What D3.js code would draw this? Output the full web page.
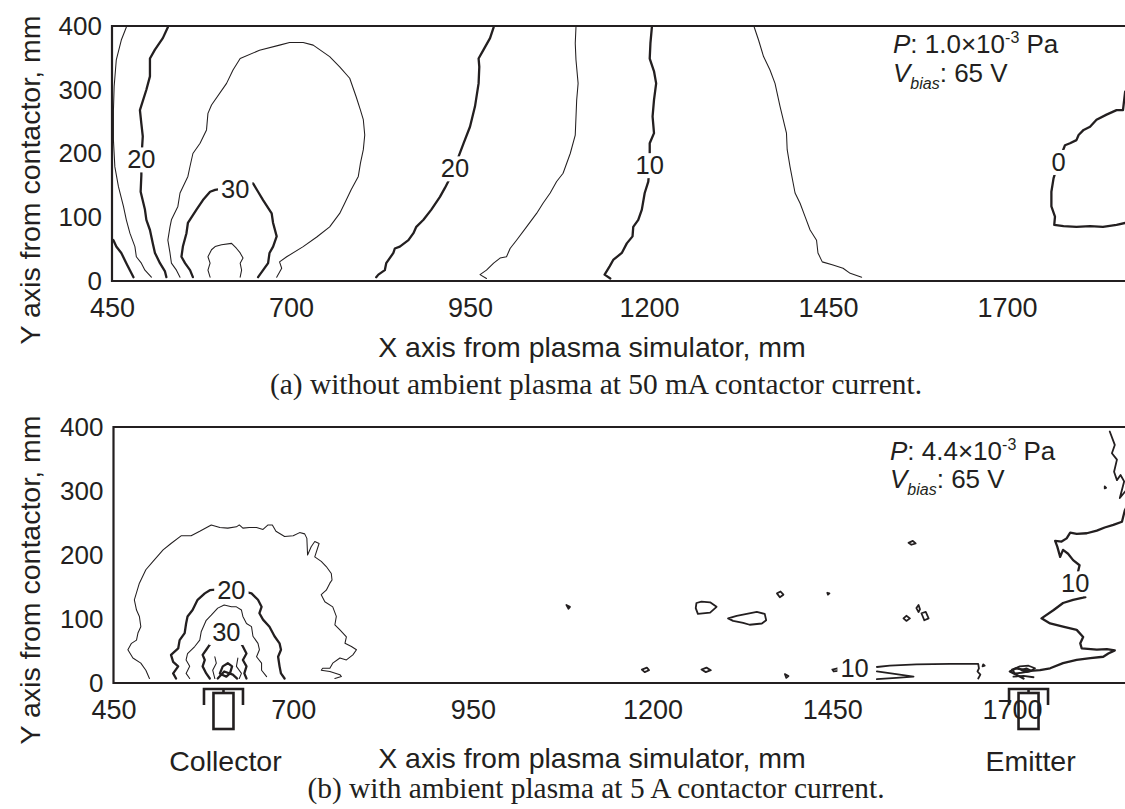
<!DOCTYPE html>
<html>
<head>
<meta charset="utf-8">
<script src="https://cdn.jsdelivr.net/npm/d3@7/dist/d3.min.js"></script>
<style>
  body { margin: 0; background: #fff; }
  svg { display: block; }
  text { font-family: "Liberation Sans", Arial, sans-serif; fill: #231f20; }
  .caption { font-family: "Liberation Serif", "Times New Roman", serif; }
</style>
</head>
<body>
<svg id="chart" width="1125" height="809"></svg>
<script>
// ---- axis ticks ----
const xTicks = [450, 700, 950, 1200, 1450, 1700];
const yTicks = [0, 100, 200, 300, 400];

// ---- (a) without ambient plasma: contour lines, [x mm, y mm] ----
const a10Corner = [[449,66],[452,64],[456,54],[463,44],[470,28],[475,17],[480,6]];
const a15West = [[470,398],[463,378],[456,347],[453,305],[452,268],[452,221],[454,179],[459,148],[466,117],[470,96],[475,75],[482,54],[484,38],[491,28],[496,17],[505,6]];
const a20West = [[528,398],[521,381],[510,363],[503,349],[503,321],[498,300],[489,268],[491,247],[493,227],[491,191],[491,166],[490,140],[496,112],[498,96],[503,80],[507,59],[510,44],[517,28],[524,15],[526,6]];
const a25 = [[545,6],[540,17],[533,28],[531,44],[528,64],[531,85],[533,96],[542,117],[545,138],[556,164],[559,180],[563,200],[573,216],[582,237],[584,263],[589,276],[610,310],[619,331],[629,349],[656,362],[684,370],[698,374],[717,374],[731,370],[754,352],[768,336],[782,318],[791,289],[797,268],[801,253],[803,229],[801,206],[797,185],[794,164],[784,143],[775,122],[768,106],[754,85],[736,69],[717,54],[694,38],[684,30],[687,20],[680,6]];
const a30 = [[563,6],[559,17],[552,28],[547,38],[549,54],[554,75],[556,91],[568,112],[577,127],[587,140],[594,143],[622,148],[647,153],[654,140],[661,127],[673,106],[675,91],[680,70],[675,54],[670,44],[668,28],[661,17],[654,6]];
const a35 = [[587,6],[584,17],[587,28],[584,38],[589,49],[594,54],[603,57],[617,59],[624,51],[629,44],[633,36],[629,28],[631,17],[629,6]];
const a20East = [[983,398],[978,381],[969,363],[962,349],[963,336],[962,310],[957,274],[950,242],[941,216],[934,195],[929,177],[915,146],[908,132],[896,112],[885,96],[875,85],[871,75],[864,64],[852,54],[845,51],[843,44],[833,28],[831,17],[822,10],[819,6]];
const a15East = [[1098,398],[1097,373],[1098,347],[1101,310],[1099,284],[1097,229],[1090,200],[1080,169],[1071,156],[1062,138],[1052,122],[1043,106],[1029,85],[1015,64],[1006,51],[1001,38],[992,36],[983,28],[973,17],[964,10],[973,4]];
const a10East = [[1204,398],[1202,373],[1201,349],[1207,329],[1210,310],[1207,284],[1205,258],[1207,232],[1201,216],[1201,182],[1199,156],[1194,138],[1190,112],[1185,96],[1178,85],[1177,70],[1169,59],[1162,44],[1150,33],[1145,23],[1138,10],[1146,4]];
const a5 = [[1347,398],[1353,378],[1360,352],[1369,331],[1376,310],[1383,274],[1392,232],[1393,206],[1397,179],[1404,138],[1411,122],[1418,101],[1425,80],[1434,64],[1436,44],[1442,30],[1457,25],[1471,20],[1481,12],[1497,6]];
const a0 = [[1875,300],[1865,297],[1862,268],[1853,268],[1839,261],[1825,253],[1816,242],[1807,237],[1800,229],[1797,221],[1788,216],[1781,213],[1772,187],[1765,161],[1762,140],[1762,117],[1767,101],[1766,88],[1779,86],[1797,85],[1816,86],[1834,85],[1853,88],[1865,91],[1875,92]];

const aLabels = [
  { text: "20", x: 491, y: 191 },
  { text: "30", x: 622, y: 145 },
  { text: "20", x: 929, y: 177 },
  { text: "10", x: 1201, y: 182 },
  { text: "0",  x: 1772, y: 187 }
];

// ---- (b) with ambient plasma ----
const b15 = [[500,7],[495,20],[488,31],[477,39],[470,52],[475,62],[482,67],[484,78],[488,88],[486,104],[482,114],[479,130],[486,156],[495,177],[505,190],[519,208],[530,218],[544,230],[558,230],[570,237],[586,247],[598,243],[609,242],[621,244],[625,247],[630,242],[639,243],[649,243],[658,240],[665,247],[671,247],[676,237],[688,229],[700,230],[709,235],[716,233],[719,226],[720,200],[725,213],[730,221],[736,218],[730,197],[739,190],[746,182],[753,171],[754,161],[751,156],[746,145],[739,138],[744,127],[755,119],[760,104],[758,91],[765,83],[774,72],[772,62],[781,57],[788,52],[783,44],[774,36],[765,39],[755,31],[751,23],[741,23],[739,20],[751,18],[765,13],[767,10],[758,7]];
const b20 = [[537,7],[533,15],[540,26],[533,33],[530,44],[540,54],[542,67],[549,78],[551,93],[553,104],[560,114],[567,130],[577,140],[584,145],[614,148],[642,140],[651,130],[656,119],[653,109],[658,99],[667,88],[674,73],[681,62],[683,52],[679,41],[681,26],[683,15],[688,7]];
const b25 = [[556,7],[551,15],[556,26],[551,36],[553,46],[563,57],[570,67],[572,80],[579,98],[586,106],[595,117],[604,122],[614,119],[621,119],[628,114],[630,104],[635,93],[642,88],[644,73],[651,62],[653,52],[649,41],[656,31],[656,20],[663,10]];
const b30 = [[584,7],[579,15],[574,26],[577,36],[574,44],[579,52],[584,60],[591,67],[598,80],[616,82],[625,67],[630,57],[635,46],[630,36],[635,26],[632,15],[635,7]];
const b35West = [[591,7],[588,20],[593,31],[591,41]];
const b35East = [[623,39],[621,26],[628,15],[625,7]];
const b40Ring = [[598,15],[602,26],[609,31],[615,26],[612,15],[607,10],[601,13]];
const b40Arc = [[595,7],[604,18],[616,13],[622,7]];

// level-10 islands scattered between the two electrodes
const bIslands = [
  [[1080,122],[1085,119],[1083,116]],
  [[1185,21],[1192,24],[1195,20],[1189,17]],
  [[1268,21],[1275,24],[1281,20],[1274,17]],
  [[1261,125],[1268,127],[1280,126],[1289,119],[1280,110],[1263,108],[1260,117]],
  [[1305,101],[1317,105],[1331,108],[1345,111],[1356,108],[1358,98],[1352,93],[1335,91],[1326,94],[1312,97]],
  [[1373,140],[1378,143],[1382,138],[1377,134]],
  [[1443,141],[1446,140],[1444,138]],
  [[1384,14],[1389,11],[1386,8]],
  [[1450,21],[1457,23],[1458,19],[1452,18]],
  [[1556,219],[1562,222],[1566,218],[1560,216]],
  [[1549,101],[1553,105],[1558,101],[1553,97]],
  [[1567,117],[1570,122],[1572,115],[1570,111]],
  [[1574,109],[1580,111],[1584,101],[1578,98]],
  [[1660,29],[1662,27],[1659,26]],
  [[1829,307],[1831,305],[1829,304]],
  [[1700,21],[1711,26],[1723,27],[1732,23],[1725,18],[1713,16],[1704,15]],
  [[1713,20],[1720,23],[1727,19],[1720,17]]
];
const b10Strip = [[1512,25],[1530,27],[1567,29],[1614,30],[1653,30],[1654,23],[1652,18],[1656,13],[1653,7]];
const b10StripLow = [[1512,18],[1539,14],[1563,10],[1539,8],[1512,6]];
const b10Emitter = [[1702,10],[1716,11],[1730,9]];
const b10East = [[1862,280],[1857,270],[1853,252],[1841,247],[1829,243],[1818,238],[1804,234],[1790,233],[1781,235],[1776,226],[1769,221],[1760,222],[1763,213],[1767,197],[1771,208],[1778,202],[1785,192],[1794,184],[1788,156],[1802,134],[1785,130],[1771,125],[1758,114],[1741,101],[1753,93],[1771,88],[1790,83],[1799,72],[1795,62],[1797,54],[1818,52],[1832,53],[1843,51],[1834,46],[1827,41],[1809,39],[1790,36],[1771,31],[1753,23],[1739,20],[1725,19],[1706,23],[1697,18],[1706,13],[1716,7]];
const b10Top = [[1836,393],[1843,372],[1839,359],[1846,349],[1842,330],[1846,317],[1851,325],[1856,315],[1850,289],[1858,300],[1868,305]];

const bLabels = [
  { text: "20", x: 614, y: 145 },
  { text: "30", x: 607, y: 80 },
  { text: "10", x: 1481, y: 23 },
  { text: "10", x: 1788, y: 156 }
];

// electrodes drawn under panel (b), x in mm
const devices = [
  { name: "Collector", x: 603 },
  { name: "Emitter", x: 1723 }
];

const panels = [
  {
    id: "a",
    left: 112, x1700: 1007, top: 26, bottom: 281,
    contours: [
      { pts: a10Corner, level: 10 }, { pts: a15West, level: 15 }, { pts: a20West, level: 20 },
      { pts: a25, level: 25 }, { pts: a30, level: 30 }, { pts: a35, level: 35 },
      { pts: a20East, level: 20 }, { pts: a15East, level: 15 }, { pts: a10East, level: 10 },
      { pts: a5, level: 5 }, { pts: a0, level: 0 }
    ],
    labels: aLabels,
    pressure: "1.0\u00d710", pAt: [893, 53], vAt: [893, 82],
    caption: "(a) without ambient plasma at 50 mA contactor current.",
    titleY: 357, captionY: 394, yTitleY: 180
  },
  {
    id: "b",
    left: 113.5, x1700: 1012, top: 427, bottom: 683,
    contours: [
      { pts: b15, level: 15 }, { pts: b20, level: 20 }, { pts: b25, level: 25 }, { pts: b30, level: 30 },
      { pts: b35West, level: 35 }, { pts: b35East, level: 35 },
      { pts: b40Ring, level: 40, closed: true }, { pts: b40Arc, level: 40 },
      ...bIslands.map(p => ({ pts: p, level: 10, closed: true, medium: true })),
      { pts: b10Strip, level: 10, medium: true }, { pts: b10StripLow, level: 10, medium: true },
      { pts: b10Emitter, level: 10, medium: true },
      { pts: b10East, level: 10 }, { pts: b10Top, level: 10, medium: true }
    ],
    labels: bLabels,
    pressure: "4.4\u00d710", pAt: [890, 460], vAt: [890, 488],
    caption: "(b) with ambient plasma at 5 A contactor current.",
    titleY: 768, captionY: 798, yTitleY: 580
  }
];

const W = 1125, H = 809;
const ink = "#231f20";
const svg = d3.select("#chart");
const defs = svg.append("defs");

panels.forEach(p => {
  const x = d3.scaleLinear().domain([450, 1700]).range([p.left, p.x1700]);
  const y = d3.scaleLinear().domain([0, 400]).range([p.bottom, p.top]);
  const g = svg.append("g").attr("class", "panel-" + p.id);

  defs.append("clipPath").attr("id", "clip-" + p.id)
    .append("rect")
    .attr("x", x(450)).attr("y", y(400))
    .attr("width", W - x(450) + 20).attr("height", y(0) - y(400));

  const line = d3.line().x(d => x(d[0])).y(d => y(d[1])).curve(d3.curveLinear);

  const cg = g.append("g").attr("clip-path", `url(#clip-${p.id})`);
  cg.selectAll("path")
    .data(p.contours)
    .join("path")
    .attr("d", d => line(d.pts) + (d.closed ? "Z" : ""))
    .attr("fill", "none")
    .attr("stroke", ink)
    .attr("stroke-linejoin", "round")
    .attr("stroke-linecap", "round")
    .attr("stroke-width", d => d.medium ? 1.8 : (d.level % 10 === 0 ? 2.3 : 1.05));

  // contour labels on a white knock-out box
  const lg = g.append("g");
  p.labels.forEach(l => {
    const t = lg.append("text")
      .attr("x", x(l.x)).attr("y", y(l.y))
      .attr("text-anchor", "middle")
      .attr("dy", "0.36em")
      .style("font-size", "25.5px")
      .text(l.text);
    const bb = t.node().getBBox();
    lg.insert("rect", () => t.node())
      .attr("x", bb.x - 3).attr("y", bb.y + 2)
      .attr("width", bb.width + 6).attr("height", bb.height - 3)
      .attr("fill", "#fff");
  });

  // frame: left, top, bottom (open on the right edge)
  g.append("path")
    .attr("d", `M${W + 10},${y(400)}H${x(450)}V${y(0)}H${W + 10}`)
    .attr("fill", "none").attr("stroke", ink).attr("stroke-width", 2.2);

  // axes
  const xa = g.append("g").attr("transform", `translate(0,${y(0)})`)
    .call(d3.axisBottom(x).tickValues(xTicks).tickSize(0).tickPadding(16.5).tickFormat(d3.format("d")));
  xa.select(".domain").remove();
  xa.selectAll("text").style("font-size", "27px").attr("fill", ink).style("font-family", '"Liberation Sans", Arial, sans-serif');

  const ya = g.append("g").attr("transform", `translate(${x(450)},0)`)
    .call(d3.axisLeft(y).tickValues(yTicks).tickSize(0).tickPadding(10).tickFormat(d3.format("d")));
  ya.select(".domain").remove();
  ya.selectAll("text").style("font-size", "26px").attr("fill", ink).style("font-family", '"Liberation Sans", Arial, sans-serif');

  // axis titles
  g.append("text")
    .attr("x", 592).attr("y", p.titleY)
    .attr("text-anchor", "middle")
    .style("font-size", "28.5px")
    .text("X axis from plasma simulator, mm");

  g.append("text")
    .attr("transform", `translate(40,${p.yTitleY}) rotate(-90)`)
    .attr("text-anchor", "middle")
    .style("font-size", "28.5px")
    .text("Y axis from contactor, mm");

  // caption
  g.append("text")
    .attr("class", "caption")
    .attr("x", 596).attr("y", p.captionY)
    .attr("text-anchor", "middle")
    .style("font-size", "29.4px")
    .text(p.caption);

  // operating conditions
  const pt = g.append("text").attr("x", p.pAt[0]).attr("y", p.pAt[1]).style("font-size", "26px");
  pt.append("tspan").style("font-style", "italic").text("P");
  pt.append("tspan").text(": " + p.pressure);
  pt.append("tspan").attr("dy", -10).style("font-size", "16px").text("-3");
  pt.append("tspan").attr("dy", 10).text(" Pa");

  const vt = g.append("text").attr("x", p.vAt[0]).attr("y", p.vAt[1]).style("font-size", "26px");
  vt.append("tspan").style("font-style", "italic").text("V");
  vt.append("tspan").attr("dy", 7).style("font-size", "16px").style("font-style", "italic").text("bias");
  vt.append("tspan").attr("dy", -7).text(": 65 V");

  // electrode symbols below panel (b)
  if (p.id === "b") {
    const dg = g.append("g");
    devices.forEach(d => {
      const cx = x(d.x);
      const yb = y(0);
      dg.append("path")
        .attr("d", `M${cx - 19.5},${yb + 22}V${yb + 6}H${cx + 19.5}V${yb + 22}M${cx},${yb + 6}V${yb + 10}`)
        .attr("fill", "none").attr("stroke", ink).attr("stroke-width", 2.6);
      dg.append("rect")
        .attr("x", cx - 10).attr("y", yb + 10)
        .attr("width", 20).attr("height", 36)
        .attr("fill", "none").attr("stroke", ink).attr("stroke-width", 2.6);
      dg.append("text")
        .attr("x", cx + 2).attr("y", yb + 88)
        .attr("text-anchor", "middle")
        .style("font-size", "28.5px")
        .text(d.name);
    });
  }
});
</script>
</body>
</html>
